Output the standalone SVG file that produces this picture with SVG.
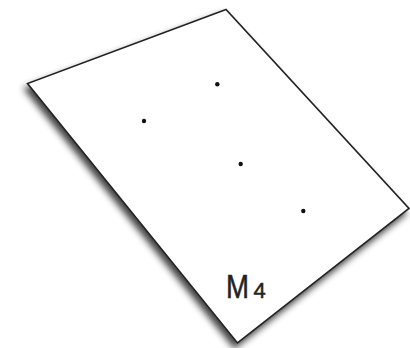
<svg xmlns="http://www.w3.org/2000/svg" width="410" height="348" viewBox="0 0 410 348">
<defs>
<filter id="sh" x="-20%" y="-20%" width="140%" height="140%">
<feGaussianBlur in="SourceAlpha" stdDeviation="3.5"/>
<feOffset dx="-3" dy="5" result="b"/>
<feComponentTransfer in="b" result="c"><feFuncA type="linear" slope="0.75"/></feComponentTransfer>
<feMerge><feMergeNode in="c"/><feMergeNode in="SourceGraphic"/></feMerge>
</filter>
<style>
.dot{fill:#111}
.lbl{font-family:"Liberation Sans",Arial,sans-serif;fill:#222;stroke:#222;stroke-width:0.5}
</style>
</defs>
<rect width="410" height="348" fill="#fff"/>
<g id="plane">
<polygon points="226,9.5 27.5,83.5 237.5,343 409,208.5" fill="#fff" stroke="#222" stroke-width="1.6" stroke-linejoin="miter" filter="url(#sh)"/>
</g>
<g id="points">
<circle class="dot" cx="217.3" cy="84.3" r="2.2"/>
<circle class="dot" cx="144" cy="121" r="2.2"/>
<circle class="dot" cx="240.7" cy="164" r="2.2"/>
<circle class="dot" cx="303.3" cy="211" r="2.2"/>
</g>
<g id="label">
<text class="lbl" x="226" y="298" font-size="33" textLength="23" lengthAdjust="spacingAndGlyphs">M</text>
<text class="lbl" x="253.5" y="298" font-size="22">4</text>
</g>
</svg>
